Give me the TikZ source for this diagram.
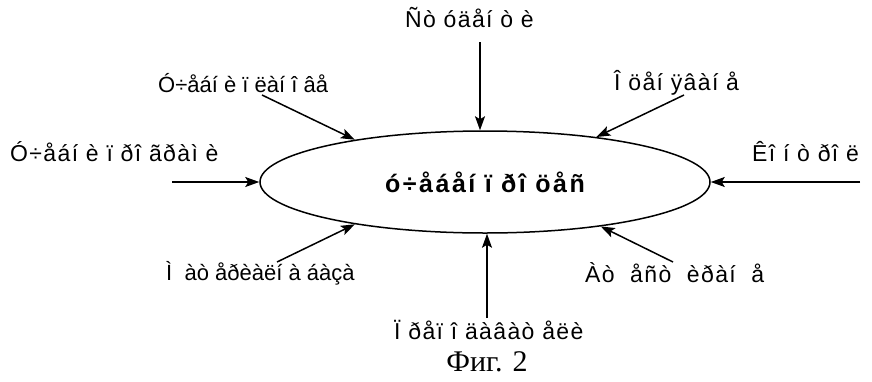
\documentclass[tikz,border=0pt]{standalone}
\usepackage{fontspec}
\setmainfont{Liberation Serif}
\newfontfamily\labfont{Liberation Sans}[LetterSpace=6]
\newfontfamily\labplain{Liberation Sans}
\newfontfamily\boldlab{Liberation Sans Bold}[LetterSpace=10]
\usetikzlibrary{shapes.geometric,arrows.meta}
\tikzset{
  lab/.style={font=\labfont\fontsize{23}{26}\selectfont, inner sep=0pt},
  labn/.style={font=\labplain\fontsize{22}{26}\selectfont, inner sep=0pt},
  conn/.style={line width=1.5pt, -{Stealth[length=14pt,width=10pt,inset=3pt]}},
}
\begin{document}
\begin{tikzpicture}[x=1pt,y=-1pt]
\useasboundingbox (0,0) rectangle (872,381);
\node[ellipse, draw, line width=1.5pt, minimum width=450pt, minimum height=102pt, inner sep=0pt,
      font=\boldlab\fontsize{25}{28}\selectfont] (proc) at (485,182) {ó÷åáåí ï ðî öåñ};
\node[lab, anchor=west] (l1) at (405,18) {Ñò óäåí ò è};
\node[labn, anchor=west] (l2) at (158,83) {Ó÷åáí è ï ëàí î âå};
\node[lab, anchor=west] (l3) at (614,83) {Î öåí ÿâàí å};
\node[lab, anchor=west] (l4) at (10,152) {Ó÷åáí è ï ðî ãðàì è};
\node[lab, anchor=west] (l5) at (752,152) {Êî í ò ðî ë};
\node[labn, anchor=west] (l6) at (166,273) {Ì \ àò åðèàëí à áàçà};
\node[lab, anchor=west] (l7) at (585,273) {Àò \ åñò \ èðàí \ å};
\node[lab, anchor=west] (l8) at (394,330) {Ï ðåï î äàâàò åëè};
\node[font=\fontsize{30}{34}\selectfont, inner sep=0pt] (cap) at (487,362) {Фиг. 2};
\coordinate (s1) at (480,42);
\coordinate (s2) at (262,95);
\coordinate (s3) at (684,95);
\coordinate (s4) at (172,182);
\coordinate (s5) at (860,182);
\coordinate (s6) at (277,262);
\coordinate (s7) at (673,262);
\coordinate (s8) at (487,318);
\draw[conn] (s1) -- (s1 |- proc.north);
\draw[conn] (s2) -- (proc.162.6);
\draw[conn] (s3) -- (proc.22.4);
\draw[conn] (s4) -- (proc.west);
\draw[conn] (s5) -- (proc.east);
\draw[conn] (s6) -- (proc.198.2);
\draw[conn] (s7) -- (proc.339.2);
\draw[conn] (s8) -- (s8 |- proc.south);
\end{tikzpicture}
\end{document}
